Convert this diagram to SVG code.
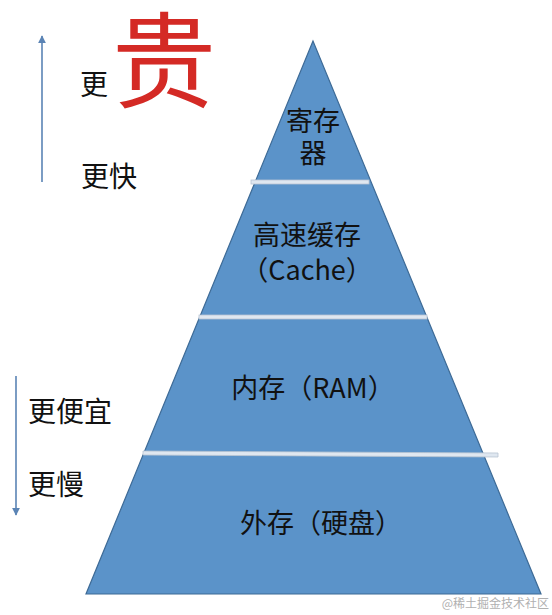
<svg xmlns="http://www.w3.org/2000/svg" width="552" height="615" viewBox="0 0 552 615">
<defs>
<style>
.t{font-family:"Noto Sans CJK SC","Noto Sans",sans-serif;fill:#111;}
.pt{font-size:27px;text-anchor:middle;}
.lt{font-size:28px;}
.band{fill:#dfe7f0;stroke:#b8c4d2;stroke-width:0.8;}
.arr{stroke:#5b84b5;stroke-width:1.6;fill:none;}
</style>
<marker id="ah" viewBox="0 0 10 10" refX="9" refY="5" markerWidth="8" markerHeight="8" markerUnits="userSpaceOnUse" orient="auto">
<path d="M0,0 L10,5 L0,10 Z" fill="#5b84b5"/>
</marker>
</defs>
<rect width="552" height="615" fill="#fff"/>
<g id="pyramid">
<polygon points="313,41 86,594 541,594" fill="#5b93c9" stroke="#3d6a96" stroke-width="1.2"/>
<rect class="band" x="251" y="180" width="118" height="4"/>
<rect class="band" x="199" y="315" width="228" height="4"/>
<polygon class="band" points="143,451 498,453 498,457 143,455"/>
</g>
<g id="node-register">
<text class="t pt" x="313" y="131">寄存</text>
<text class="t pt" x="313" y="163">器</text>
</g>
<g id="node-cache">
<text class="t pt" x="307" y="245">高速缓存</text>
<text class="t pt" x="307" y="280">（Cache）</text>
</g>
<g id="node-ram">
<text class="t pt" x="313" y="398">内存（RAM）</text>
</g>
<g id="node-disk">
<text class="t pt" x="321" y="533">外存（硬盘）</text>
</g>
<g id="labels-top">
<text class="t lt" x="80" y="95">更</text>
<text class="t" x="112" y="100" font-size="104" style="fill:#d42a25">贵</text>
<text class="t lt" x="81" y="187">更快</text>
</g>
<g id="labels-bottom">
<text class="t lt" x="28" y="422">更便宜</text>
<text class="t lt" x="28" y="495">更慢</text>
</g>
<g id="connectors">
<line class="arr" x1="42" y1="182" x2="42" y2="36" marker-end="url(#ah)"/>
<line class="arr" x1="16" y1="376" x2="16" y2="515" marker-end="url(#ah)"/>
</g>
<text x="549" y="608" font-family="Noto Sans CJK SC,sans-serif" font-size="12" fill="#b0b0b0" text-anchor="end">@稀土掘金技术社区</text>
</svg>
